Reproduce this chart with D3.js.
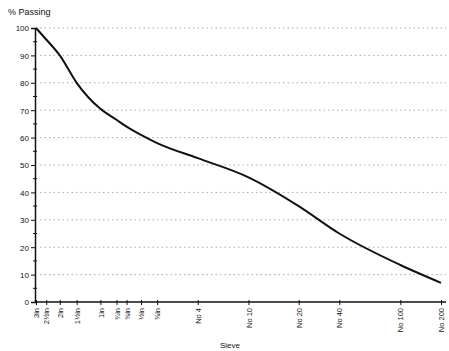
<!DOCTYPE html>
<html>
<head>
<meta charset="utf-8">
<script src="https://cdn.jsdelivr.net/npm/d3@7"></script>
<style>
  body { margin: 0; background: #fff; }
  text { font-family: "Liberation Sans", Arial, sans-serif; fill: #111; }
</style>
</head>
<body>
<div id="chart"></div>
<script>
// sieve labels and opening sizes (mm)
var sieveLabels = ["3in", "2½in", "2in", "1½in", "1in", "¾in", "⅝in", "½in", "⅜in",
                   "No 4", "No 10", "No 20", "No 40", "No 100", "No 200"];
var sieveSizes = [75, 63, 50, 37.5, 25, 19, 16, 12.5, 9.5, 4.75, 2, 0.85, 0.425, 0.15, 0.075];
var passing = [100, 95.8, 90, 80, 70.5, 66.5, 64, 61, 58, 52.5, 45.5, 35, 25, 13.5, 7];
var yTicks = [0, 10, 20, 30, 40, 50, 60, 70, 80, 90, 100];

var width = 449, height = 351;

var svg = d3.select("#chart")
            .append("svg")
            .attr("width", width)
            .attr("height", height);

var x = d3.scaleLog()
          .domain([75, 0.075])
          .range([36, 441]);

var y = d3.scaleLinear()
          .domain([0, 100])
          .range([302, 28]);

// dotted grid
svg.append("g")
   .selectAll("line")
   .data(yTicks.filter(function (d) { return d > 0; }))
   .enter()
   .append("line")
   .attr("x1", 40)
   .attr("x2", 446)
   .attr("y1", function (d) { return y(d); })
   .attr("y2", function (d) { return y(d); })
   .style("stroke", "#aaa")
   .style("stroke-width", 1)
   .style("stroke-dasharray", "1.5,3");

// y axis
var yAxis = svg.append("g")
               .attr("transform", "translate(35,0)")
               .call(d3.axisLeft(y).tickValues(yTicks).tickSize(4).tickPadding(2));
yAxis.select(".domain").style("stroke", "#111").style("stroke-width", 1.5);
yAxis.selectAll(".tick line").style("stroke", "#111");
yAxis.selectAll("text").style("font-size", "8px").attr("dy", "0.35em");

// minor y ticks
svg.append("g")
   .selectAll("line")
   .data(d3.range(5, 100, 10))
   .enter()
   .append("line")
   .attr("x1", 33)
   .attr("x2", 37)
   .attr("y1", function (d) { return y(d); })
   .attr("y2", function (d) { return y(d); })
   .style("stroke", "#111");

// x axis
var xAxis = svg.append("g")
               .attr("transform", "translate(0,302)")
               .call(d3.axisBottom(x).tickValues(sieveSizes).tickSize(3).tickFormat(function (d, i) { return sieveLabels[i]; }));
xAxis.select(".domain").attr("d", "M35,0H446").style("stroke", "#111").style("stroke-width", 1.5);
xAxis.selectAll(".tick line").attr("y1", -2).style("stroke", "#111");
xAxis.selectAll("text")
     .style("font-size", "7.5px")
     .style("text-anchor", "end")
     .attr("transform", "rotate(-90)")
     .attr("x", -6)
     .attr("y", 0)
     .attr("dy", "0.35em");

// grading curve
var line = d3.line()
             .curve(d3.curveMonotoneX)
             .x(function (d, i) { return x(sieveSizes[i]); })
             .y(function (d) { return y(d); });

svg.append("path")
   .datum(passing)
   .attr("d", line)
   .style("fill", "none")
   .style("stroke", "#111")
   .style("stroke-width", 2);

// labels
svg.append("text")
   .attr("x", 8)
   .attr("y", 15)
   .style("font-size", "9px")
   .text("% Passing");

svg.append("text")
   .attr("x", 230)
   .attr("y", 348)
   .style("font-size", "8px")
   .style("text-anchor", "middle")
   .text("Sieve");
</script>
</body>
</html>
